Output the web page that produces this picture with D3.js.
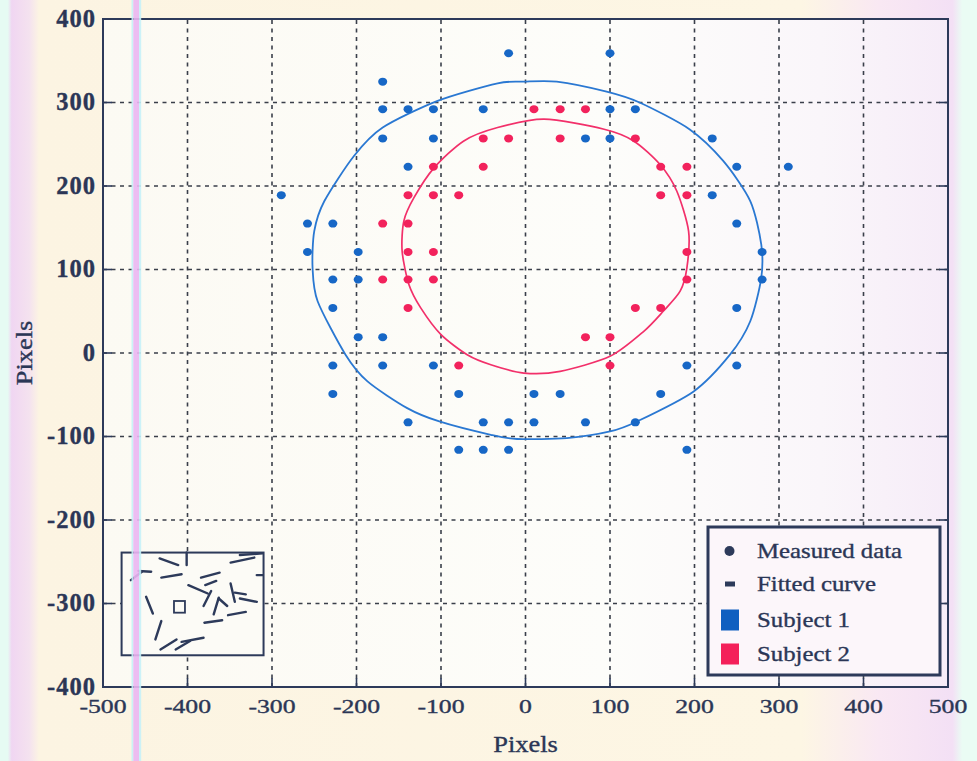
<!DOCTYPE html>
<html>
<head>
<meta charset="utf-8">
<script src="https://cdn.jsdelivr.net/npm/d3@7"></script>
<style>
  html, body { margin: 0; padding: 0; background: #fbf4e4; }
  svg { display: block; }
  text { font-family: "Liberation Serif", "Times New Roman", serif; fill: #2b3656; stroke: #2b3656; stroke-width: 0.35; }
</style>
</head>
<body>
<svg id="chart" width="977" height="761"></svg>
<script>
// measured points (pixel units)
const subject1Points = [
  [-20, 359], [100, 359],
  [-169, 325],
  [-169, 292], [-139, 292], [-109, 292], [-50, 292], [100, 292], [130, 292],
  [-169, 257], [-109, 257], [71, 257], [100, 257], [221, 257],
  [-139, 223], [250, 223], [311, 223],
  [-289, 189], [221, 189],
  [-258, 155], [-228, 155], [250, 155],
  [-258, 121], [-198, 121], [280, 121],
  [-228, 88], [-198, 88], [280, 88],
  [-228, 54], [250, 54],
  [-198, 19], [-169, 19],
  [-228, -15], [-169, -15], [-109, -15], [191, -15], [250, -15],
  [-228, -49], [-79, -49], [10, -49], [41, -49], [160, -49],
  [-139, -83], [-50, -83], [-20, -83], [10, -83], [71, -83], [130, -83],
  [-79, -116], [-50, -116], [-20, -116], [191, -116]
];
const subject2Points = [
  [10, 292], [41, 292], [71, 292],
  [-50, 257], [-20, 257], [41, 257], [130, 257],
  [-109, 223], [-50, 223], [160, 223], [191, 223],
  [-139, 189], [-109, 189], [-79, 189], [160, 189], [191, 189],
  [-169, 155], [-139, 155],
  [-139, 121], [-109, 121], [191, 121],
  [-169, 88], [-139, 88], [-109, 88], [191, 88],
  [-139, 54], [130, 54], [160, 54],
  [71, 19], [100, 19],
  [-79, -15], [100, -15]
];
// fitted curves, points
const subject1Fit = [
  [-2, 325], [37, 325], [96, 313], [135, 300], [194, 268], [234, 230], [266, 182],
  [279, 130], [279, 90], [266, 38], [242, -2], [199, -46], [132, -82], [100, -94],
  [49, -102], [-10, -103], [-41, -98], [-102, -82], [-140, -66], [-187, -34],
  [-213, -2], [-246, 62], [-252, 102], [-250, 146], [-238, 182], [-203, 236],
  [-169, 270], [-104, 302], [-33, 323]
];
const subject2Fit = [
  [22, 280], [93, 268], [128, 254], [159, 226], [179, 194], [193, 146], [191, 102],
  [183, 74], [163, 50], [140, 26], [100, -4], [41, -22], [-2, -24], [-41, -14],
  [-69, -2], [-100, 22], [-124, 54], [-138, 82], [-146, 122], [-144, 158],
  [-132, 186], [-108, 222], [-73, 254], [-33, 270]
];
// little scene sketch in the lower-left inset: [x1, y1, x2, y2]
const insetBox = [-478, -239, -310, -362];
const insetSquare = [-416, -297, -403, -311];
const insetSegments = [
  [-467, -272, -454, -262], [-458, -261, -443, -262], [-433, -246, -411, -254],
  [-431, -269, -407, -265], [-449, -292, -441, -312], [-431, -321, -438, -343],
  [-432, -355, -413, -343], [-414, -355, -397, -345], [-407, -346, -381, -341],
  [-349, -251, -321, -245], [-338, -242, -311, -240], [-318, -266, -311, -266],
  [-384, -269, -362, -263], [-399, -278, -376, -288], [-381, -303, -372, -285],
  [-379, -278, -366, -273], [-369, -313, -363, -293], [-363, -294, -353, -303],
  [-349, -276, -344, -298], [-344, -287, -331, -289], [-338, -294, -318, -298],
  [-352, -314, -331, -310], [-380, -323, -359, -320], [-401, -239, -401, -254]
];
const xTicks = [-500, -400, -300, -200, -100, 0, 100, 200, 300, 400, 500];
const yTicks = [400, 300, 200, 100, 0, -100, -200, -300, -400];
const xTickLabels = ["-500", "-400", "-300", "-200", "-100", "0", "100", "200", "300", "400", "500"];
const yTickLabels = ["400", "300", "200", "100", "0", "-100", "-200", "-300", "-400"];
const legendLabels = ["Measured data", "Fitted curve", "Subject 1", "Subject 2"];

const blue = "#1767c6", red = "#f2225c", ink = "#2d3a5a";

const svg = d3.select("#chart");
const width = +svg.attr("width"), height = +svg.attr("height");

const x = d3.scaleLinear().domain([-500, 500]).range([103, 948]);
const y = d3.scaleLinear().domain([-400, 400]).range([687, 19]);

// scanned-page look: coloured bands at the edges
const defs = svg.append("defs");
const pageGrad = defs.append("linearGradient").attr("id", "page");
[[0, "#e6fbf3"], [0.008, "#e6fbf3"], [0.012, "#f0d6f2"], [0.03, "#f4e2ef"], [0.04, "#fcf4e2"],
 [0.82, "#fdf6e4"], [0.9, "#f9e8f3"], [0.975, "#f3e0f5"], [0.985, "#eafcf4"], [1, "#eafcf4"]]
  .forEach(([o, c]) => pageGrad.append("stop").attr("offset", o).attr("stop-color", c));
const plotGrad = defs.append("linearGradient").attr("id", "plotbg");
[[0, "#fcfaf3"], [0.6, "#fdfdfa"], [0.85, "#faf6fa"], [1, "#f6ecf8"]]
  .forEach(([o, c]) => plotGrad.append("stop").attr("offset", o).attr("stop-color", c));

svg.append("rect").attr("width", width).attr("height", height).attr("fill", "url(#page)");
svg.append("rect")
  .attr("x", x(-500)).attr("y", y(400))
  .attr("width", x(500) - x(-500)).attr("height", y(-400) - y(400))
  .attr("fill", "url(#plotbg)");

// grid
const grid = svg.append("g").attr("class", "grid")
  .attr("stroke", "#3a3f4a").attr("stroke-width", 1.6).attr("stroke-dasharray", "4,4.5");
grid.selectAll(".gx").data(xTicks.slice(1, -1)).enter().append("line")
  .attr("x1", d => x(d)).attr("x2", d => x(d))
  .attr("y1", y(-400)).attr("y2", y(400));
grid.selectAll(".gy").data(yTicks.slice(1, -1)).enter().append("line")
  .attr("y1", d => y(d)).attr("y2", d => y(d))
  .attr("x1", x(-500)).attr("x2", x(500));

// short solid ticks along the bottom and side edges
const ticks = svg.append("g").attr("stroke", ink).attr("stroke-width", 1.6);
ticks.selectAll(".tx").data(xTicks.slice(1, -1)).enter().append("line")
  .attr("x1", d => x(d)).attr("x2", d => x(d))
  .attr("y1", y(-400)).attr("y2", y(-400) - 9);
ticks.selectAll(".ty").data(yTicks.slice(1, -1)).enter().append("line")
  .attr("y1", d => y(d)).attr("y2", d => y(d))
  .attr("x1", x(-500)).attr("x2", x(-500) + 9);
ticks.selectAll(".ty2").data(yTicks.slice(1, -1)).enter().append("line")
  .attr("y1", d => y(d)).attr("y2", d => y(d))
  .attr("x1", x(500)).attr("x2", x(500) - 9);

// fitted curves
const line = d3.line().x(d => x(d[0])).y(d => y(d[1])).curve(d3.curveCardinalClosed.tension(0.2));
svg.append("path").datum(subject1Fit).attr("d", line)
  .attr("fill", "none").attr("stroke", "#2a78d2").attr("stroke-width", 1.8);
svg.append("path").datum(subject2Fit).attr("d", line)
  .attr("fill", "none").attr("stroke", "#f2306a").attr("stroke-width", 1.7);

// measured data
const drawPoints = (data, color) => {
  svg.append("g").selectAll("ellipse").data(data).enter().append("ellipse")
    .attr("cx", d => x(d[0])).attr("cy", d => y(d[1]))
    .attr("rx", 4.5).attr("ry", 4)
    .attr("fill", color);
};
drawPoints(subject1Points, blue);
drawPoints(subject2Points, red);

// inset sketch
const inset = svg.append("g");
inset.append("rect")
  .attr("x", x(insetBox[0])).attr("y", y(insetBox[1]))
  .attr("width", x(insetBox[2]) - x(insetBox[0])).attr("height", y(insetBox[3]) - y(insetBox[1]))
  .attr("fill", "#fcfbf6").attr("stroke", ink).attr("stroke-width", 2);
inset.append("rect")
  .attr("x", x(insetSquare[0])).attr("y", y(insetSquare[1]))
  .attr("width", x(insetSquare[2]) - x(insetSquare[0])).attr("height", y(insetSquare[3]) - y(insetSquare[1]))
  .attr("fill", "none").attr("stroke", ink).attr("stroke-width", 1.8);
inset.selectAll(".seg").data(insetSegments).enter().append("line")
  .attr("x1", d => x(d[0])).attr("y1", d => y(d[1]))
  .attr("x2", d => x(d[2])).attr("y2", d => y(d[3]))
  .attr("stroke", ink).attr("stroke-width", 2.4).attr("stroke-linecap", "round");

// frame
svg.append("rect")
  .attr("x", x(-500)).attr("y", y(400))
  .attr("width", x(500) - x(-500)).attr("height", y(-400) - y(400))
  .attr("fill", "none").attr("stroke", ink).attr("stroke-width", 2);

// scanner streak crossing the left of the plot
[[131.5, 1.8, "#c4f2f6"], [133.3, 5.7, "#eab6f2"], [139, 2.2, "#c6f1f8"]].forEach(([sx, sw, c]) => {
  svg.append("rect").attr("x", sx).attr("y", 0).attr("width", sw).attr("height", height)
    .attr("fill", c).attr("opacity", 0.9);
});

// legend
const lg = svg.append("g");
lg.append("rect").attr("x", 708).attr("y", 527).attr("width", 232).attr("height", 148)
  .attr("fill", "#fcf6fa").attr("stroke", ink).attr("stroke-width", 3);
const rowY = [551, 584, 620, 654];
lg.append("circle").attr("cx", 729.5).attr("cy", rowY[0]).attr("r", 5).attr("fill", ink);
lg.append("rect").attr("x", 725).attr("y", rowY[1] - 2.5).attr("width", 10).attr("height", 5).attr("fill", ink);
lg.append("rect").attr("x", 721).attr("y", rowY[2] - 10.5).attr("width", 18).attr("height", 21).attr("fill", "#0f5fc0");
lg.append("rect").attr("x", 721).attr("y", rowY[3] - 10.5).attr("width", 18).attr("height", 21).attr("fill", "#f4205a");
lg.selectAll(".lt").data(legendLabels).enter().append("text")
  .attr("transform", (d, i) => `translate(757,${rowY[i] + 7}) scale(1.18,1)`)
  .attr("font-size", 21)
  .text(d => d);

// tick labels
svg.selectAll(".xl").data(xTicks).enter().append("text")
  .attr("transform", d => `translate(${x(d)},713) scale(1.32,1)`)
  .attr("text-anchor", "middle").attr("font-size", 19.5)
  .text((d, i) => xTickLabels[i]);
svg.selectAll(".yl").data(yTicks).enter().append("text")
  .attr("x", 96).attr("y", d => y(d) - 1).attr("dy", "0.35em")
  .attr("text-anchor", "end").attr("font-size", 24.5).attr("font-weight", "bold")
  .attr("letter-spacing", 1).attr("stroke-width", 0)
  .text((d, i) => yTickLabels[i]);

// axis titles
svg.append("text")
  .attr("transform", `translate(${x(0)},752) scale(1.15,1)`)
  .attr("text-anchor", "middle").attr("font-size", 23)
  .text("Pixels");
svg.append("text")
  .attr("transform", `translate(32,${y(0)}) rotate(-90) scale(1.15,1)`)
  .attr("text-anchor", "middle").attr("font-size", 23)
  .text("Pixels");
</script>
</body>
</html>
